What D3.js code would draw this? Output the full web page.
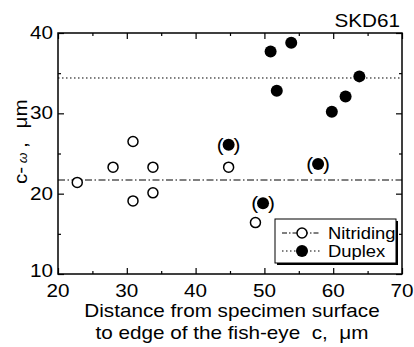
<!DOCTYPE html>
<html>
<head>
<meta charset="utf-8">
<script src="https://cdn.jsdelivr.net/npm/d3@7"></script>
<style>
  body { margin: 0; background: #fff; }
  text { font-family: "Liberation Sans", Arial, sans-serif; fill: #000; }
</style>
</head>
<body>
<svg id="chart" width="414" height="347"></svg>
<script>
// values
const nitridingX = [22.8, 28.0, 30.9, 30.9, 33.8, 33.8, 44.8, 48.7];
const nitridingY = [21.4, 23.3, 26.5, 19.1, 23.3, 20.1, 23.3, 16.4];
const duplexX = [50.9, 53.9, 51.8, 59.8, 61.8, 63.8, 44.8, 49.8, 57.8];
const duplexY = [37.7, 38.8, 32.8, 30.2, 32.1, 34.6, 26.1, 18.8, 23.7];
const duplexBracket = [false, false, false, false, false, false, true, true, true];
const nitridingMean = 21.7;
const duplexMean = 34.4;
const xTicks = [20, 30, 40, 50, 60, 70];
const yTicks = [10, 20, 30, 40];
const legendLabels = ["Nitriding", "Duplex"];

const SX = 1.15; // the scanned text is a bit wide
const svg = d3.select("#chart");
const pL = 58, pR = 402, pT = 33, pB = 274;

const x = d3.scaleLinear().domain([20, 70]).range([pL, pR]);
const y = d3.scaleLinear().domain([10, 40]).range([pB, pT]);

function stext(g, tx, ty, str, size, anchor) {
    return g.append("text")
        .attr("transform", "translate(" + tx + "," + ty + ") scale(" + SX + ",1)")
        .attr("text-anchor", anchor || "start")
        .style("font-size", size + "px")
        .text(str);
}

// frame ticks, all inward
function ticks(axis, tr) {
    let g = svg.append("g").attr("transform", tr);
    g.call(axis);
    g.select(".domain").remove();
    g.selectAll("line").attr("stroke", "#000").attr("stroke-width", 1.2);
    g.selectAll("text").remove();
}
const minorX = d3.range(25, 70, 10), minorY = d3.range(15, 40, 10);
ticks(d3.axisBottom(x).tickValues(xTicks).tickSize(-6), "translate(0," + pB + ")");
ticks(d3.axisBottom(x).tickValues(minorX).tickSize(-3), "translate(0," + pB + ")");
ticks(d3.axisTop(x).tickValues(xTicks).tickSize(-6), "translate(0," + pT + ")");
ticks(d3.axisTop(x).tickValues(minorX).tickSize(-3), "translate(0," + pT + ")");
ticks(d3.axisLeft(y).tickValues(yTicks).tickSize(-6), "translate(" + pL + ",0)");
ticks(d3.axisLeft(y).tickValues(minorY).tickSize(-3), "translate(" + pL + ",0)");
ticks(d3.axisRight(y).tickValues(yTicks).tickSize(-6), "translate(" + pR + ",0)");
ticks(d3.axisRight(y).tickValues(minorY).tickSize(-3), "translate(" + pR + ",0)");

svg.append("rect")
    .attr("x", pL).attr("y", pT)
    .attr("width", pR - pL).attr("height", pB - pT)
    .attr("fill", "none").attr("stroke", "#000").attr("stroke-width", 1.5);

// tick labels
xTicks.forEach(v => stext(svg, x(v), 297, v, 18, "middle"));
yTicks.forEach(v => stext(svg, pL - 5, y(v) + (v === 10 ? 3 : 6), v, 18, "end"));

// mean lines
svg.append("line")
    .attr("x1", pL).attr("x2", pR)
    .attr("y1", y(duplexMean)).attr("y2", y(duplexMean))
    .attr("stroke", "#000").attr("stroke-width", 1).attr("stroke-dasharray", "1.5,2.5");
svg.append("line")
    .attr("x1", pL).attr("x2", pR)
    .attr("y1", y(nitridingMean)).attr("y2", y(nitridingMean))
    .attr("stroke", "#000").attr("stroke-width", 1).attr("stroke-dasharray", "7,2.5,1.5,2.5");

// points
svg.append("g").selectAll("circle")
    .data(d3.zip(nitridingX, nitridingY))
    .join("circle")
    .attr("cx", d => x(d[0])).attr("cy", d => y(d[1]))
    .attr("r", 5).attr("fill", "#fff").attr("stroke", "#000").attr("stroke-width", 1.5);

svg.append("g").selectAll("circle")
    .data(d3.zip(duplexX, duplexY))
    .join("circle")
    .attr("cx", d => x(d[0])).attr("cy", d => y(d[1]))
    .attr("r", 6).attr("fill", "#000");

const br = svg.append("g");
duplexX.forEach((v, i) => {
    if (!duplexBracket[i]) return;
    stext(br, x(v) - 5, y(duplexY[i]) + 6, "(", 18, "end");
    stext(br, x(v) + 5, y(duplexY[i]) + 6, ")", 18, "start");
});

// legend
const lg = svg.append("g");
lg.append("rect").attr("x", 277).attr("y", 221).attr("width", 121).attr("height", 44).attr("fill", "#000");
lg.append("rect").attr("x", 275).attr("y", 219).attr("width", 121).attr("height", 44)
    .attr("fill", "#fff").attr("stroke", "#000").attr("stroke-width", 1);
const rows = [233, 251];
lg.append("line").attr("x1", 282).attr("x2", 320).attr("y1", rows[0]).attr("y2", rows[0])
    .attr("stroke", "#000").attr("stroke-dasharray", "5,2,1.5,2");
lg.append("circle").attr("cx", 302).attr("cy", rows[0]).attr("r", 5)
    .attr("fill", "#fff").attr("stroke", "#000").attr("stroke-width", 1.5);
lg.append("line").attr("x1", 282).attr("x2", 320).attr("y1", rows[1]).attr("y2", rows[1])
    .attr("stroke", "#000").attr("stroke-dasharray", "1.5,2.5");
lg.append("circle").attr("cx", 302).attr("cy", rows[1]).attr("r", 6).attr("fill", "#000");
legendLabels.forEach((t, i) => stext(lg, 328, rows[i] + 6, t, 16, "start"));

// titles
stext(svg, 400, 27, "SKD61", 18, "end");
stext(svg, 232, 317, "Distance from specimen surface", 18, "middle");
stext(svg, 232, 339, "to edge of the fish-eye\u00a0 c,\u00a0 \u03bcm", 18, "middle");

const yl = svg.append("text")
    .attr("transform", "translate(27,184) rotate(-90) scale(" + SX + ",1)")
    .style("font-size", "18px");
yl.append("tspan").text("c-");
yl.append("tspan").attr("dx", 3).text("\u03c9").style("font-style", "italic").style("font-size", "12px");
yl.append("tspan").attr("dx", 4).text(",");
yl.append("tspan").attr("dx", 12).text("\u03bcm");
</script>
</body>
</html>
